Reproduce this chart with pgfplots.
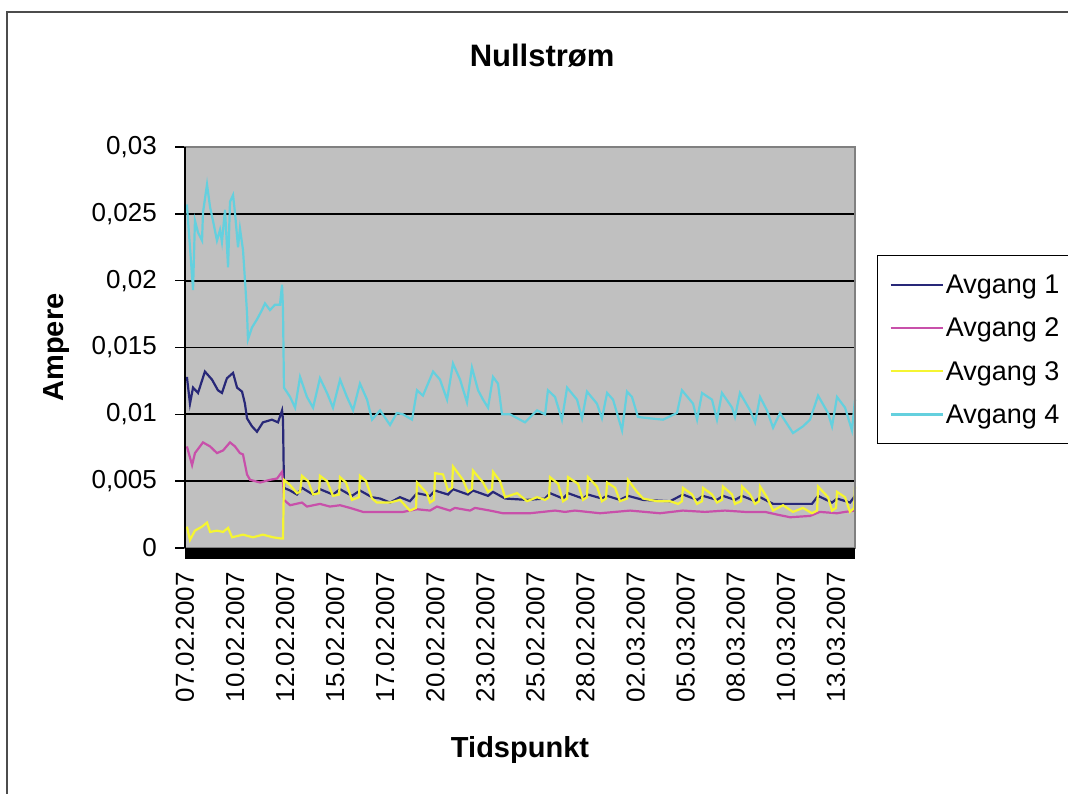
\documentclass[border=0pt]{standalone}
\usepackage{pgfplots}
\pgfplotsset{compat=1.18}
\usepackage{fontspec}
\setmainfont{Liberation Sans}
\definecolor{sA}{RGB}{40,40,120}
\definecolor{sB}{RGB}{200,80,170}
\definecolor{sC}{RGB}{245,245,50}
\definecolor{sD}{RGB}{100,208,222}
\definecolor{plotbg}{RGB}{192,192,192}
\begin{document}
\begin{tikzpicture}[x=1pt,y=1pt]
\useasboundingbox (0,0) rectangle (1068,793);
\draw[line width=2pt, black!70] (7,-20) -- (7,781) -- (1100,781);
\begin{axis}[
  at={(185pt,245pt)}, anchor=south west,
  scale only axis, width=670pt, height=401pt,
  xmin=0, xmax=35, ymin=0, ymax=0.03,
  clip=false,
  axis background/.style={fill=plotbg},
  axis line style={draw=none},
  ymajorgrids, major grid style={black, line width=1.8pt},
  ytick={0,0.005,0.01,0.015,0.02,0.025,0.03},
  yticklabels={0,{0,005},{0,01},{0,015},{0,02},{0,025},{0,03}},
  scaled y ticks=false, scaled x ticks=false,
  tick align=outside,
  major tick length=10pt,
  ytick style={black, line width=1.5pt},
  xtick style={draw=none},
  ytick pos=left, xtick pos=bottom,
  yticklabel style={font=\fontsize{26}{30}\selectfont, inner sep=0pt, anchor=east, xshift=-18pt},
  xtick={0,2.615,5.231,7.846,10.462,13.077,15.692,18.308,20.923,23.538,26.154,28.769,31.385,34},
  xticklabels={07.02.2007,10.02.2007,12.02.2007,15.02.2007,17.02.2007,20.02.2007,23.02.2007,25.02.2007,28.02.2007,02.03.2007,05.03.2007,08.03.2007,10.03.2007,13.03.2007},
  xticklabel style={font=\fontsize{26}{30}\selectfont, rotate=90, anchor=east, inner sep=0pt},
  xticklabel shift=14pt,
  xlabel={Tidspunkt},
  xlabel style={font=\fontsize{29}{34}\selectfont\bfseries, at={(axis description cs:0.5,0)}, anchor=center, yshift=-202pt},
  ylabel={Ampere},
  ylabel style={font=\fontsize{29}{34}\selectfont\bfseries, at={(axis description cs:0,0.5)}, anchor=center, yshift=128pt},
  title={Nullstrøm},
  title style={font=\fontsize{31}{36}\selectfont\bfseries, at={(axis description cs:0.533,1)}, anchor=center, yshift=85pt},
  legend style={at={(axis description cs:1.0328,0.7307)}, anchor=north west, draw=black, line width=1.5pt, fill=white,
    font=\fontsize{27}{32}\selectfont, inner xsep=12pt, inner ysep=17pt, row sep=19pt},
  legend cell align=left,
  legend image code/.code={\draw[#1, line width=2pt] (0pt,0pt) -- (47pt,0pt); \path (0pt,0pt) -- (52pt,0pt);},
  every axis plot/.append style={line width=2.2pt},
]
% Avgang 1
\addplot[sA] coordinates {
(0.10,0.0128)(0.26,0.0108)(0.42,0.0120)(0.68,0.0116)(1.04,0.0132)(1.41,0.0126)(1.72,0.0118)(1.93,0.0116)
(2.19,0.0127)(2.51,0.0131)(2.72,0.0120)(2.98,0.0117)(3.13,0.0108)(3.24,0.0097)(3.50,0.0091)(3.76,0.0087)
(4.07,0.0094)(4.54,0.0096)(4.86,0.0094)(5.07,0.0103)(5.12,0.0096)(5.17,0.0045)(5.49,0.0043)(5.85,0.0040)
(6.11,0.0045)(6.69,0.0040)(7.05,0.0044)(7.73,0.0040)(8.10,0.0044)(8.72,0.0039)(9.14,0.0043)(9.77,0.0038)
(10.19,0.0037)(10.71,0.0034)(11.23,0.0038)(11.75,0.0035)(12.12,0.0041)(12.80,0.0039)(13.06,0.0043)(13.74,0.0040)
(14.00,0.0044)(14.78,0.0040)(15.04,0.0043)(15.83,0.0039)(16.09,0.0042)(16.72,0.0037)(17.87,0.0036)(18.81,0.0037)
(19.07,0.0041)(19.75,0.0037)(20.01,0.0041)(20.79,0.0037)(21.05,0.0040)(21.78,0.0037)(22.05,0.0039)(22.72,0.0036)
(23.14,0.0039)(23.93,0.0036)(25.34,0.0035)(26.01,0.0040)(26.75,0.0036)(27.06,0.0039)(27.79,0.0036)(28.10,0.0039)
(28.73,0.0036)(29.10,0.0039)(29.78,0.0035)(30.04,0.0038)(30.72,0.0033)(31.76,0.0033)(32.75,0.0033)(33.07,0.0039)
(33.80,0.0034)(34.06,0.0037)(34.74,0.0034)(35.00,0.0039)
};
\addlegendentry{Avgang 1\hspace*{16pt}}
% Avgang 2
\addplot[sB] coordinates {
(0.10,0.0076)(0.37,0.0062)(0.52,0.0071)(0.94,0.0079)(1.31,0.0076)(1.67,0.0071)(1.99,0.0073)(2.35,0.0079)
(2.61,0.0076)(2.87,0.0071)(3.03,0.0070)(3.24,0.0055)(3.40,0.0051)(3.92,0.0049)(4.44,0.0051)(4.81,0.0052)
(5.07,0.0057)(5.12,0.0049)(5.17,0.0036)(5.49,0.0032)(6.11,0.0034)(6.37,0.0031)(7.05,0.0033)(7.57,0.0031)
(8.10,0.0032)(8.62,0.0030)(9.30,0.0027)(10.34,0.0027)(11.39,0.0027)(12.12,0.0029)(12.80,0.0028)(13.16,0.0031)
(13.84,0.0028)(14.10,0.0030)(14.89,0.0028)(15.15,0.0030)(15.93,0.0028)(16.61,0.0026)(18.02,0.0026)(19.33,0.0028)
(19.85,0.0027)(20.37,0.0028)(21.68,0.0026)(23.25,0.0028)(24.81,0.0026)(26.01,0.0028)(27.16,0.0027)(28.21,0.0028)
(29.25,0.0027)(30.30,0.0027)(30.93,0.0025)(31.61,0.0023)(32.65,0.0024)(33.17,0.0027)(34.06,0.0026)(34.48,0.0027)
(35.00,0.0028)
};
\addlegendentry{Avgang 2\hspace*{16pt}}
% Avgang 3
\addplot[sC] coordinates {
(0.10,0.0016)(0.26,0.0006)(0.52,0.0013)(0.89,0.0016)(1.15,0.0019)(1.31,0.0012)(1.67,0.0013)(1.99,0.0012)
(2.25,0.0015)(2.46,0.0008)(3.03,0.0010)(3.55,0.0008)(4.07,0.0010)(4.60,0.0008)(5.07,0.0007)(5.12,0.0007)
(5.17,0.0051)(5.49,0.0047)(5.85,0.0041)(6.01,0.0042)(6.11,0.0054)(6.43,0.0050)(6.69,0.0040)(7.00,0.0041)
(7.05,0.0054)(7.42,0.0050)(7.73,0.0039)(8.05,0.0040)(8.10,0.0053)(8.41,0.0049)(8.72,0.0036)(9.09,0.0038)
(9.14,0.0054)(9.46,0.0050)(9.77,0.0037)(10.03,0.0034)(10.71,0.0034)(11.23,0.0036)(11.75,0.0028)(12.07,0.0030)
(12.12,0.0049)(12.64,0.0041)(12.80,0.0034)(13.01,0.0036)(13.06,0.0056)(13.48,0.0055)(13.74,0.0043)(13.95,0.0045)
(14.00,0.0061)(14.52,0.0051)(14.78,0.0042)(14.99,0.0044)(15.04,0.0058)(15.57,0.0049)(15.83,0.0042)(16.04,0.0044)
(16.09,0.0057)(16.46,0.0050)(16.72,0.0038)(17.35,0.0041)(17.87,0.0035)(18.39,0.0038)(18.81,0.0036)(19.02,0.0038)
(19.07,0.0053)(19.49,0.0048)(19.75,0.0035)(19.96,0.0037)(20.01,0.0053)(20.53,0.0048)(20.79,0.0036)(21.00,0.0038)
(21.05,0.0053)(21.52,0.0046)(21.78,0.0035)(21.99,0.0037)(22.05,0.0049)(22.47,0.0045)(22.72,0.0035)(23.09,0.0037)
(23.14,0.0051)(23.61,0.0042)(23.93,0.0037)(24.66,0.0035)(25.34,0.0035)(25.76,0.0033)(25.96,0.0035)(26.01,0.0045)
(26.49,0.0040)(26.75,0.0033)(27.01,0.0035)(27.06,0.0045)(27.53,0.0040)(27.79,0.0034)(28.05,0.0036)(28.10,0.0046)
(28.58,0.0040)(28.73,0.0033)(29.05,0.0035)(29.10,0.0046)(29.52,0.0040)(29.78,0.0033)(29.99,0.0035)(30.04,0.0046)
(30.40,0.0038)(30.72,0.0028)(31.24,0.0032)(31.76,0.0027)(32.28,0.0030)(32.75,0.0026)(33.02,0.0028)(33.07,0.0046)
(33.59,0.0038)(33.80,0.0028)(34.01,0.0030)(34.06,0.0042)(34.48,0.0038)(34.74,0.0027)(34.95,0.0030)(35.00,0.0046)
};
\addlegendentry{Avgang 3\hspace*{16pt}}
% Avgang 4
\addplot[sD] coordinates {
(0.10,0.0257)(0.42,0.0193)(0.52,0.0245)(0.68,0.0236)(0.89,0.0230)(0.94,0.0251)(1.15,0.0272)(1.31,0.0255)
(1.46,0.0245)(1.67,0.0230)(1.83,0.0238)(1.93,0.0229)(2.09,0.0253)(2.25,0.0210)(2.35,0.0259)(2.51,0.0264)
(2.61,0.0251)(2.77,0.0225)(2.87,0.0239)(3.03,0.0223)(3.13,0.0201)(3.24,0.0176)(3.29,0.0156)(3.50,0.0165)
(3.76,0.0171)(4.02,0.0178)(4.18,0.0183)(4.44,0.0178)(4.70,0.0182)(4.96,0.0182)(5.07,0.0197)(5.12,0.0178)
(5.17,0.0120)(5.49,0.0113)(5.75,0.0105)(6.01,0.0128)(6.37,0.0113)(6.69,0.0105)(7.05,0.0127)(7.42,0.0116)
(7.73,0.0105)(8.10,0.0126)(8.46,0.0113)(8.78,0.0103)(9.14,0.0123)(9.51,0.0111)(9.77,0.0096)(10.19,0.0103)
(10.71,0.0092)(11.07,0.0101)(11.39,0.0100)(11.86,0.0096)(12.12,0.0118)(12.43,0.0114)(12.96,0.0132)(13.32,0.0126)
(13.69,0.0111)(14.00,0.0138)(14.37,0.0126)(14.73,0.0109)(14.99,0.0135)(15.31,0.0118)(15.57,0.0111)(15.83,0.0105)
(16.09,0.0128)(16.35,0.0123)(16.56,0.0100)(16.98,0.0100)(17.76,0.0094)(18.39,0.0103)(18.81,0.0100)(18.96,0.0118)
(19.33,0.0113)(19.69,0.0096)(19.96,0.0120)(20.48,0.0111)(20.74,0.0097)(21.00,0.0117)(21.52,0.0108)(21.78,0.0097)
(22.05,0.0116)(22.36,0.0111)(22.83,0.0088)(23.09,0.0117)(23.35,0.0113)(23.66,0.0098)(24.29,0.0097)(24.97,0.0096)
(25.70,0.0101)(25.96,0.0118)(26.54,0.0108)(26.75,0.0096)(27.01,0.0116)(27.53,0.0111)(27.79,0.0096)(28.05,0.0116)
(28.58,0.0105)(28.73,0.0098)(28.99,0.0116)(29.52,0.0103)(29.78,0.0094)(30.04,0.0113)(30.40,0.0103)(30.72,0.0090)
(31.08,0.0101)(31.76,0.0086)(32.28,0.0091)(32.65,0.0096)(33.07,0.0114)(33.59,0.0101)(33.80,0.0091)(34.06,0.0113)
(34.48,0.0105)(34.84,0.0088)(35.00,0.0111)
};
\addlegendentry{Avgang 4\hspace*{16pt}}
\draw[line width=2pt, black!50] (rel axis cs:0,0) rectangle (rel axis cs:1,1);
\draw[line width=2.5pt, black] (rel axis cs:0,0) -- (rel axis cs:0,1);
\fill[black] (rel axis cs:0,0) rectangle ([yshift=-11pt]rel axis cs:1,0);
\end{axis}
\end{tikzpicture}
\end{document}
